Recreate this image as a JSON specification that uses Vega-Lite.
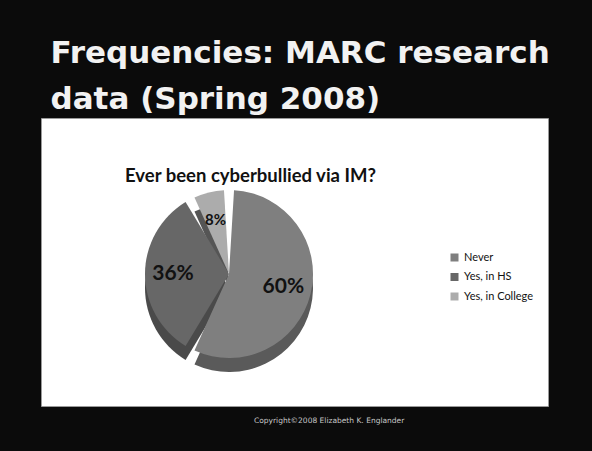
{
  "$schema": "https://vega.github.io/schema/vega-lite/v6.json",
  "background": "#0b0b0b",
  "padding": {"left": 40, "top": 37, "right": 45, "bottom": 35},
  "config": {
    "view": {"stroke": null},
    "concat": {"spacing": 0}
  },
  "title": {
    "text": "Copyright©2008 Elizabeth K. Englander",
    "orient": "bottom",
    "anchor": "middle",
    "font": "DejaVu Sans",
    "fontSize": 7.5,
    "fontWeight": "normal",
    "color": "#c8c8c8",
    "dx": 34,
    "offset": 10
  },
  "vconcat": [
    {
      "title": {
        "text": ["Frequencies: MARC research", "data (Spring 2008)"],
        "orient": "top",
        "anchor": "start",
        "font": "DejaVu Sans",
        "fontSize": 31,
        "fontWeight": "bold",
        "color": "#f2f2f2",
        "lineHeight": 46,
        "dx": 10,
        "offset": 2
      },
      "vconcat": [
        {
          "width": 507,
          "height": 288,
          "view": {"fill": "white", "stroke": "#9a9a9a"},
          "title": {
            "text": "Ever been cyberbullied via IM?",
            "orient": "top",
            "anchor": "middle",
            "frame": "group",
            "font": "Lato",
            "fontSize": 18.5,
            "fontWeight": "bold",
            "color": "#111111",
            "dx": -44,
            "offset": -67
          },
          "data": {
            "values": [
              {"category": "Never", "pct": 60, "label": "60%", "ord": 1},
              {"category": "Yes, in HS", "pct": 36, "label": "36%", "ord": 2},
              {"category": "Yes, in College", "pct": 8, "label": "8%", "ord": 3}
            ]
          },
          "encoding": {
            "theta": {"field": "pct", "type": "quantitative", "stack": true},
            "order": {"field": "ord", "type": "quantitative"}
          },
          "layer": [
            {
              "mark": {"type": "arc", "x": 188, "y": 170, "outerRadius": 84, "padAngle": 0.12},
              "encoding": {
                "fill": {
                  "field": "ord",
                  "type": "nominal",
                  "scale": {"domain": [1, 2, 3], "range": ["#5a5a5a", "#4a4a4a", "#555555"]},
                  "legend": null
                }
              }
            },
            {
              "mark": {"type": "arc", "x": 188, "y": 156, "outerRadius": 84, "padAngle": 0.12},
              "encoding": {
                "color": {
                  "field": "category",
                  "type": "nominal",
                  "scale": {"domain": ["Never", "Yes, in HS", "Yes, in College"], "range": ["#7f7f7f", "#676767", "#acacac"]},
                  "legend": {
                    "title": null,
                    "orient": "none",
                    "legendX": 408,
                    "legendY": 134,
                    "symbolType": "square",
                    "symbolSize": 64,
                    "symbolStrokeWidth": 0,
                    "labelFont": "Lato",
                    "labelFontSize": 11,
                    "labelColor": "#111111",
                    "rowPadding": 7.5
                  }
                }
              }
            },
            {
              "mark": {"type": "text", "x": 188, "y": 156, "radius": 56, "font": "Lato", "fontWeight": "bold", "color": "#111111"},
              "encoding": {
                "text": {"field": "label", "type": "nominal"},
                "size": {"condition": {"test": "datum.pct < 10", "value": 15}, "value": 21}
              }
            }
          ]
        }
      ]
    }
  ]
}
